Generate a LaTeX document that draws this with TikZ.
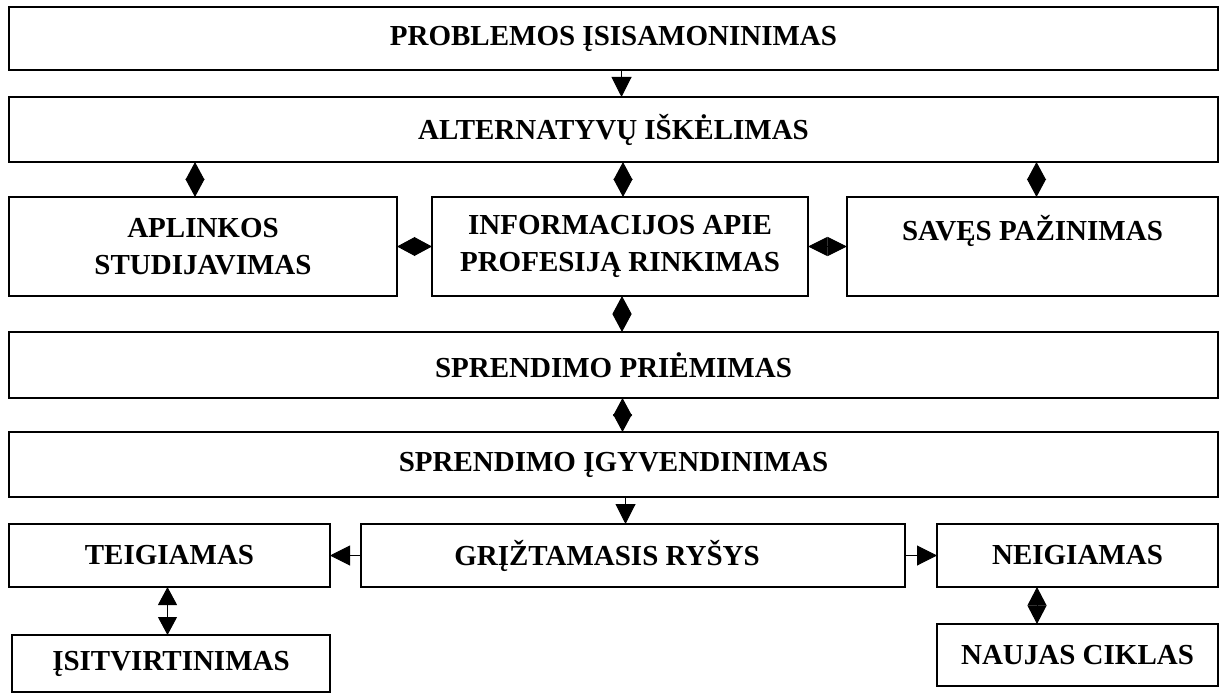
\documentclass[tikz,border=0pt]{standalone}
\usepackage{fontspec}
\setmainfont{Liberation Serif}
\usetikzlibrary{arrows.meta}

\tikzset{
  blok/.style={draw, line width=0.7pt, inner sep=0pt, outer sep=0pt, align=center,
    font=\bfseries\fontsize{14.5}{18.5}\selectfont},
  pil/.style={-{Triangle[length=10pt,width=10pt]}, line width=0.5pt},
  dvi/.style={{Triangle[length=#1,width=9.5pt]}-{Triangle[length=#1,width=9.5pt]}, line width=0.5pt},
  dvi/.default=9pt
}

\begin{document}
\begin{tikzpicture}[x=0.5pt, y=-0.5pt]
      \useasboundingbox (0,0) rectangle (1229,695);

      % Define the wide boxes of the decision chain
      \node[blok, minimum width=604.5pt, minimum height=31.5pt] (prob) at (613.5, 38.5) {PROBLEMOS ĮSISAMONINIMAS};
      \node[blok, minimum width=604.5pt, minimum height=32.5pt] (alt) at (613.5, 129.5) {ALTERNATYVŲ IŠKĖLIMAS};

      % Define the three boxes of the middle row
      \node[blok, minimum width=194pt, minimum height=49.5pt] (aplink) at (203, 246.5) {APLINKOS\\STUDIJAVIMAS};
      \node[blok, minimum width=188pt, minimum height=49.5pt] (info) at (620, 246.5) {INFORMACIJOS APIE\\PROFESIJĄ RINKIMAS};
      \node[blok, minimum width=185.5pt, minimum height=49.5pt] (saves) at (1032.5, 246.5) {SAVĘS PAŽINIMAS\\\phantom{X}};

      \node[blok, minimum width=604.5pt, minimum height=33pt] (priem) at (613.5, 365) {SPRENDIMO PRIĖMIMAS};
      \node[blok, minimum width=604.5pt, minimum height=32.5pt] (igyv) at (613.5, 464.5) {SPRENDIMO ĮGYVENDINIMAS};

      % Define the feedback row and its outcomes
      \node[blok, minimum width=160.5pt, minimum height=31.5pt] (teig) at (169.5, 555.5) {TEIGIAMAS};
      \node[blok, minimum width=272pt, minimum height=31.5pt] (griz) at (633, 555.5) {GRĮŽTAMASIS RYŠYS\hspace*{26pt}};
      \node[blok, minimum width=140.5pt, minimum height=31.5pt] (neig) at (1077.5, 555.5) {NEIGIAMAS};
      \node[blok, minimum width=159pt, minimum height=28.5pt] (isitv) at (171, 663.5) {ĮSITVIRTINIMAS};
      \node[blok, minimum width=140.5pt, minimum height=31pt] (naujas) at (1077.5, 655) {NAUJAS CIKLAS};

      \coordinate (nx) at (1037, 0);

      % Draw the arrows between the boxes
      \draw[pil] ([xshift=4pt]prob.south) -- ([xshift=4pt]prob.south |- alt.north);
      \draw[dvi] ([xshift=-4pt]aplink.north |- alt.south) -- ([xshift=-4pt]aplink.north);
      \draw[dvi] ([xshift=1.5pt]info.north |- alt.south) -- ([xshift=1.5pt]info.north);
      \draw[dvi] ([xshift=2pt]saves.north |- alt.south) -- ([xshift=2pt]saves.north);
      \draw[dvi] (aplink.east) -- (info.west);
      \draw[dvi=9.75pt] (info.east) -- (saves.west);
      \draw[dvi] ([xshift=1pt]info.south) -- ([xshift=1pt]info.south |- priem.north);
      \draw[dvi] ([xshift=4.5pt]priem.south) -- ([xshift=4.5pt]priem.south |- igyv.north);
      \draw[pil] ([xshift=6pt]igyv.south) -- ([xshift=6pt]igyv.south |- griz.north);
      \draw[pil] (griz.west) -- (teig.east);
      \draw[pil] (griz.east) -- (neig.west);
      \draw[dvi] ([xshift=-1pt]teig.south) -- ([xshift=-1pt]teig.south |- isitv.north);
      \draw[dvi=9.25pt] (nx |- neig.south) -- (nx |- naujas.north);
\end{tikzpicture}
\end{document}
